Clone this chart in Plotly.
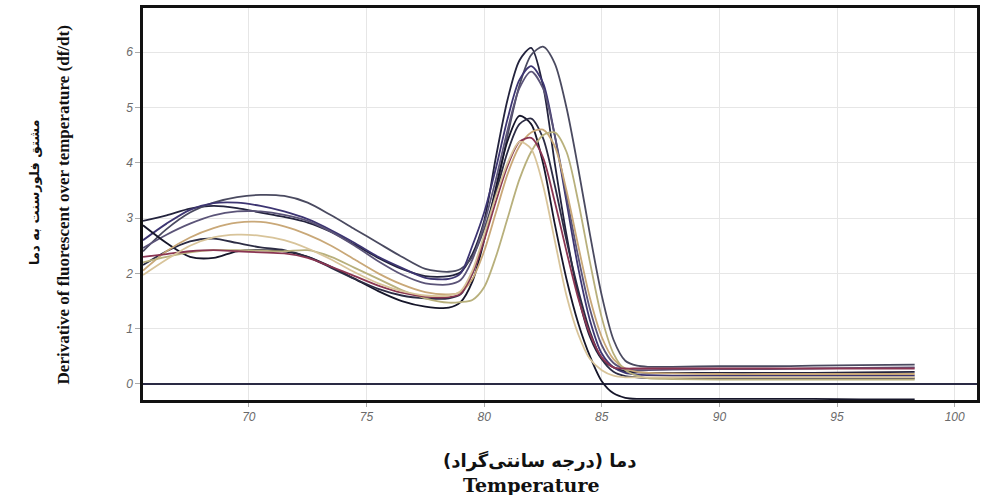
import plotly.graph_objects as go

# Temperature grid (°C) at which each curve was read
temperature = [65.5, 66.5, 67.5, 68.5, 69.5, 70.5, 71.5, 72.5, 73.5, 74.5, 75.5, 76.5,
               77.5, 78.5, 79.0, 79.5, 80.0, 80.5, 81.0, 81.5, 82.0, 82.5, 83.0, 83.5,
               84.0, 84.5, 85.0, 85.5, 86.0, 86.5, 87.0, 88.0, 90.0, 92.0, 94.0, 96.0, 98.3]

c1 = [2.95, 3.05, 3.17, 3.22, 3.18, 3.10, 3.02, 2.92, 2.75, 2.52, 2.28, 2.08,
      1.95, 1.95, 2.02, 2.35, 2.95, 4.10, 5.15, 5.85, 6.08, 5.40, 4.00, 2.70,
      1.60, 0.85, 0.45, 0.30, 0.23, 0.21, 0.20, 0.20, 0.20, 0.20, 0.20, 0.21, 0.22]
c2 = [2.40, 2.80, 3.10, 3.28, 3.38, 3.42, 3.40, 3.28, 3.05, 2.80, 2.55, 2.30,
      2.08, 2.03, 2.08, 2.30, 2.80, 3.50, 4.50, 5.40, 5.95, 6.10, 5.80, 5.00,
      3.90, 2.70, 1.60, 0.80, 0.42, 0.33, 0.31, 0.31, 0.32, 0.32, 0.33, 0.34, 0.35]
c3 = [2.60, 2.90, 3.15, 3.27, 3.28, 3.22, 3.12, 2.98, 2.78, 2.55, 2.30, 2.10,
      1.92, 1.90, 2.00, 2.50, 3.10, 3.90, 4.80, 5.50, 5.75, 5.45, 4.50, 3.30,
      2.10, 1.15, 0.55, 0.30, 0.20, 0.17, 0.16, 0.15, 0.15, 0.15, 0.15, 0.15, 0.15]
c4 = [2.46, 2.70, 2.90, 3.05, 3.12, 3.12, 3.06, 2.95, 2.75, 2.50, 2.22, 1.98,
      1.82, 1.80, 1.88, 2.25, 2.90, 3.70, 4.60, 5.35, 5.65, 5.35, 4.50, 3.40,
      2.30, 1.35, 0.70, 0.38, 0.27, 0.25, 0.25, 0.26, 0.27, 0.27, 0.28, 0.29, 0.30]
c5 = [2.87, 2.55, 2.30, 2.28, 2.40, 2.42, 2.40, 2.30, 2.12, 1.90, 1.68, 1.50,
      1.40, 1.38, 1.48, 1.85, 2.60, 3.55, 4.40, 4.85, 4.70, 4.00, 2.90, 1.90,
      1.10, 0.50, 0.05, -0.17, -0.25, -0.27, -0.27, -0.27, -0.27, -0.27, -0.27, -0.28, -0.28]
c6 = [2.15, 2.40, 2.58, 2.63, 2.55, 2.47, 2.42, 2.30, 2.10, 1.90, 1.72, 1.60,
      1.55, 1.55, 1.62, 2.00, 2.65, 3.45, 4.20, 4.70, 4.80, 4.45, 3.60, 2.60,
      1.70, 0.95, 0.45, 0.22, 0.14, 0.12, 0.11, 0.10, 0.10, 0.10, 0.10, 0.10, 0.10]
c7 = [2.05, 2.40, 2.65, 2.82, 2.92, 2.93, 2.85, 2.70, 2.50, 2.25, 2.00, 1.80,
      1.66, 1.62, 1.66, 1.90, 2.40, 3.10, 3.80, 4.30, 4.55, 4.60, 4.30, 3.50,
      2.50, 1.55, 0.85, 0.45, 0.28, 0.22, 0.20, 0.19, 0.18, 0.18, 0.18, 0.18, 0.18]
c8 = [2.20, 2.30, 2.38, 2.42, 2.42, 2.41, 2.40, 2.42, 2.30, 2.10, 1.90, 1.70,
      1.55, 1.47, 1.48, 1.52, 1.75, 2.30, 3.00, 3.70, 4.20, 4.50, 4.55, 4.20,
      3.30, 2.20, 1.20, 0.55, 0.25, 0.15, 0.10, 0.09, 0.08, 0.08, 0.08, 0.08, 0.08]
c9 = [2.30, 2.35, 2.40, 2.42, 2.40, 2.38, 2.36, 2.28, 2.12, 1.95, 1.78, 1.65,
      1.58, 1.57, 1.63, 2.00, 2.60, 3.30, 3.95, 4.38, 4.45, 4.10, 3.30, 2.40,
      1.55, 0.90, 0.48, 0.30, 0.28, 0.28, 0.28, 0.28, 0.28, 0.28, 0.28, 0.28, 0.28]
c10 = [1.97, 2.25, 2.50, 2.65, 2.70, 2.68, 2.60, 2.45, 2.25, 2.02, 1.82, 1.68,
       1.60, 1.60, 1.68, 2.05, 2.70, 3.40, 4.00, 4.38, 4.25, 3.60, 2.60, 1.60,
       0.90, 0.45, 0.25, 0.15, 0.12, 0.12, 0.12, 0.12, 0.12, 0.12, 0.12, 0.12, 0.12]

series = [c1, c2, c3, c4, c5, c6, c7, c8, c9, c10]
colors = ["#23233d", "#4a4a60", "#3d3572", "#5b5478", "#16162a",
          "#2c2c44", "#c9a878", "#b8b07c", "#8a3552", "#d8c49a"]

x_ticks = [70, 75, 80, 85, 90, 95, 100]
y_ticks = [0, 1, 2, 3, 4, 5, 6]

fig = go.Figure()
for vals, col in zip(series, colors):
    fig.add_trace(go.Scatter(x=temperature, y=vals, mode="lines",
                             line=dict(color=col, width=1.8, shape="spline", smoothing=0.8),
                             showlegend=False, hoverinfo="skip"))

tickfont = dict(family="Liberation Sans, Arial", size=12, color="#6a6a6a", style="italic")

fig.update_layout(
    width=984, height=495, autosize=False,
    margin=dict(l=143, r=4, t=8, b=95),
    paper_bgcolor="white", plot_bgcolor="white",
    xaxis=dict(range=[65.5, 100.95], tickvals=x_ticks, showgrid=True, gridcolor="#e6e6e6",
               gridwidth=1, zeroline=False, showline=True, linecolor="#111", linewidth=2.5,
               mirror=True, ticks="outside", ticklen=4, tickcolor="#aaa", tickfont=tickfont),
    yaxis=dict(range=[-0.29, 6.8], tickvals=y_ticks, showgrid=True, gridcolor="#e6e6e6",
               gridwidth=1, zeroline=True, zerolinecolor="#2a2a44", zerolinewidth=1.5,
               showline=True, linecolor="#111", linewidth=2.5, mirror=True,
               ticks="outside", ticklen=5, tickcolor="#aaa", tickfont=tickfont),
    annotations=[
        dict(text="Derivative of fluorescent over temperature (df/dt)", xref="paper", yref="paper",
             x=-0.0956, y=0.497, xanchor="center", yanchor="middle", textangle=-90, showarrow=False,
             font=dict(family="Liberation Serif, Times New Roman", size=17, color="#111", weight="bold")),
        dict(text="مشتق فلورسنت به دما", xref="paper", yref="paper",
             x=-0.131, y=0.53, xanchor="center", yanchor="middle", textangle=-90, showarrow=False,
             font=dict(family="DejaVu Sans", size=13, color="#111", weight="bold")),
        dict(text="دما (درجه سانتی‌گراد)", xref="paper", yref="paper",
             x=0.4755, y=-0.1556, xanchor="center", yanchor="middle", showarrow=False,
             font=dict(family="DejaVu Sans", size=18, color="#111", weight="bold")),
        dict(text="Temperature", xref="paper", yref="paper",
             x=0.466, y=-0.216, xanchor="center", yanchor="middle", showarrow=False,
             font=dict(family="DejaVu Serif", size=19, color="#111", weight="bold")),
    ],
)

fig.write_html("out.html")
